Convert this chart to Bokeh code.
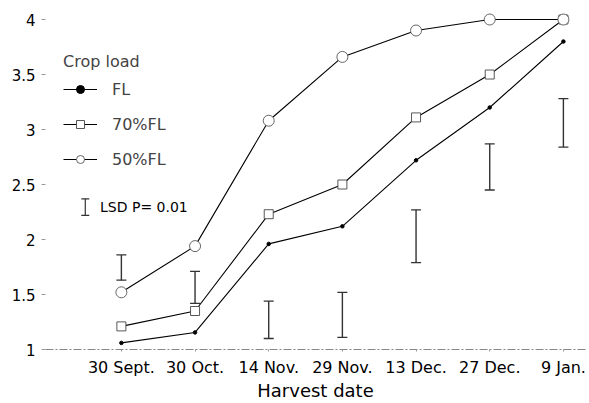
from bokeh.plotting import figure
from bokeh.models import (FixedTicker, Range1d, Legend, LegendItem, Whisker,
                          ColumnDataSource, TeeHead, Label)
from bokeh.embed import file_html
from bokeh.resources import INLINE

# ---- data ----
dates = ["30 Sept.", "30 Oct.", "14 Nov.", "29 Nov.", "13 Dec.", "27 Dec.", "9 Jan."]
fl = [1.06, 1.155, 1.96, 2.12, 2.72, 3.20, 3.80]
fl70 = [1.21, 1.35, 2.23, 2.50, 3.11, 3.50, 4.00]
fl50 = [1.52, 1.94, 3.08, 3.66, 3.90, 4.00, 4.00]
lsd_upper = [1.86, 1.71, 1.44, 1.52, 2.27, 2.87, 3.28]
lsd_lower = [1.63, 1.42, 1.10, 1.11, 1.79, 2.45, 2.84]
y_ticks = [1, 1.5, 2, 2.5, 3, 3.5, 4]
y_tick_labels = ["1", "1.5", "2", "2.5", "3", "3.5", "4"]
lsd_key_text = "LSD P= 0.01"
lsd_key_x = -0.49
lsd_key_low = 2.22
lsd_key_high = 2.37

xs = list(range(len(dates)))
FONT = "DejaVu Sans"

p = figure(width=589, height=403, output_backend="svg", toolbar_location=None,
           x_range=Range1d(-1.03, 6.30), y_range=Range1d(1.0, 4.082),
           min_border_left=45, min_border_right=4, min_border_top=10,
           min_border_bottom=54)
p.outline_line_color = None
p.grid.visible = False
p.background_fill_color = "white"

# x axis
p.xaxis.ticker = FixedTicker(ticks=xs)
p.xaxis.major_label_overrides = {i: d for i, d in enumerate(dates)}
p.xaxis.minor_tick_line_color = None
p.xaxis.major_tick_line_color = "#999999"
p.xaxis.major_tick_in = 0
p.xaxis.major_tick_out = 2
p.xaxis.axis_line_color = "#888888"
p.xaxis.axis_line_dash = "8 2 2 2"
p.xaxis.major_label_text_font = FONT
p.xaxis.major_label_text_font_size = "16px"
p.xaxis.major_label_text_color = "black"
p.xaxis.major_label_standoff = 6
p.xaxis.axis_label = "Harvest date"
p.xaxis.axis_label_text_font = FONT
p.xaxis.axis_label_text_font_size = "18px"
p.xaxis.axis_label_text_font_style = "normal"
p.xaxis.axis_label_text_color = "black"
p.xaxis.axis_label_standoff = 0

# y axis
p.yaxis.ticker = FixedTicker(ticks=y_ticks)
p.yaxis.major_label_overrides = {t: l for t, l in zip(y_ticks, y_tick_labels)}
p.yaxis.minor_tick_line_color = None
p.yaxis.axis_line_color = None
p.yaxis.major_tick_line_color = "#999999"
p.yaxis.major_tick_in = 0
p.yaxis.major_tick_out = 4
p.yaxis.major_label_text_font = FONT
p.yaxis.major_label_text_font_size = "15px"
p.yaxis.major_label_text_color = "black"
p.yaxis.major_label_standoff = 6

# LSD bars
lsd_src = ColumnDataSource(dict(x=xs, upper=lsd_upper, lower=lsd_lower))
w = Whisker(base="x", upper="upper", lower="lower", source=lsd_src,
            line_color="#333333", line_width=1.4,
            upper_head=TeeHead(size=10, line_color="#333333", line_width=1.3),
            lower_head=TeeHead(size=10, line_color="#333333", line_width=1.3))
p.add_layout(w)

key_src = ColumnDataSource(dict(x=[lsd_key_x], upper=[lsd_key_high], lower=[lsd_key_low]))
wk = Whisker(base="x", upper="upper", lower="lower", source=key_src,
             line_color="#333333", line_width=1.2,
             upper_head=TeeHead(size=8, line_color="#333333", line_width=1.2),
             lower_head=TeeHead(size=8, line_color="#333333", line_width=1.2))
p.add_layout(wk)
p.add_layout(Label(x=lsd_key_x + 0.2, y=(lsd_key_low + lsd_key_high) / 2,
                   text=lsd_key_text, text_font=FONT, text_font_size="14px",
                   text_baseline="middle", text_color="black"))

# series
l1 = p.line(xs, fl, line_color="black", line_width=1.1)
m1 = p.scatter(xs, fl, marker="circle", size=3.5, fill_color="black", line_color="black")
l2 = p.line(xs, fl70, line_color="black", line_width=1.1)
m2 = p.scatter(xs, fl70, marker="square", size=9, fill_color="white",
               line_color="#444444", line_width=0.9)
l3 = p.line(xs, fl50, line_color="black", line_width=1.1)
m3 = p.scatter(xs, fl50, marker="circle", size=11, fill_color="white",
               line_color="#555555", line_width=0.9)

legend = Legend(items=[LegendItem(label="FL", renderers=[l1, m1]),
                       LegendItem(label="70%FL", renderers=[l2, m2]),
                       LegendItem(label="50%FL", renderers=[l3, m3])],
                location=(18, 180), title="Crop load")
legend.padding = 0
legend.margin = 0
legend.border_line_color = None
legend.background_fill_alpha = 0
legend.title_text_font = FONT
legend.title_text_font_size = "16px"
legend.title_text_font_style = "normal"
legend.title_standoff = 8
legend.label_text_font = FONT
legend.label_text_font_size = "16px"
legend.glyph_width = 34
legend.glyph_height = 20
legend.label_height = 20
legend.label_standoff = 15
legend.spacing = 15
p.add_layout(legend)

open("out.html", "w").write(file_html(p, INLINE))
